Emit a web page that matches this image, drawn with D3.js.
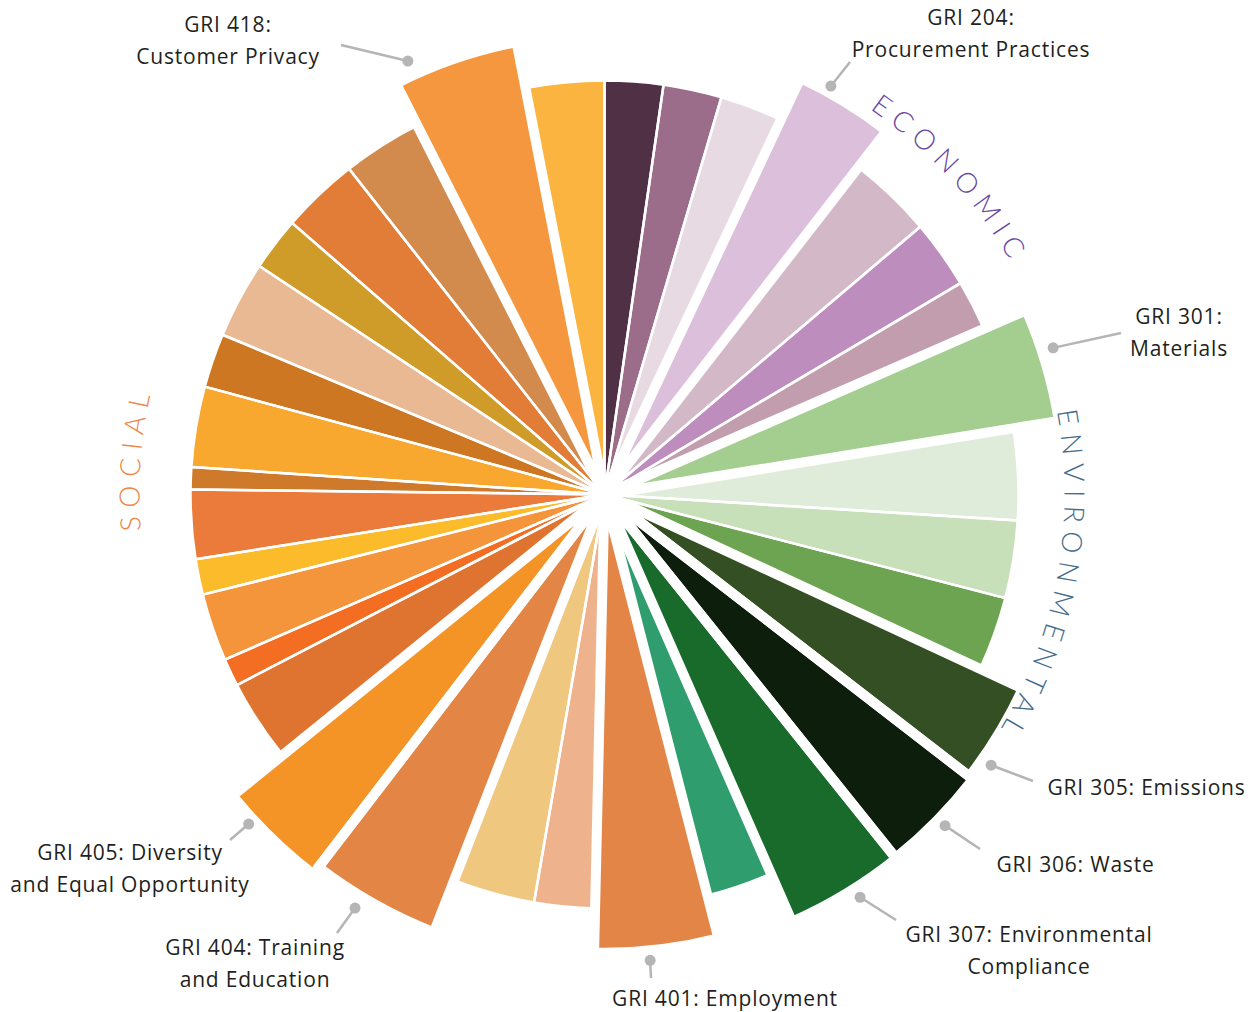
<!DOCTYPE html>
<html>
<head>
<meta charset="utf-8">
<script src="https://cdn.jsdelivr.net/npm/d3@7"></script>
<style>
  html, body { margin: 0; padding: 0; background: #fff; }
  svg { display: block; }
  .lbl { font-family: "Open Sans", sans-serif; font-size: 21px; letter-spacing: 0.8px; fill: #231f20; }
  .cat { font-family: "Lato", sans-serif; font-weight: 300; font-size: 28px; letter-spacing: 8px; }
</style>
</head>
<body>
<svg></svg>
<script>
// GRI topics, clockwise from 12 o'clock
let topics = ['GRI 201', 'GRI 202', 'GRI 203', 'GRI 204', 'GRI 205', 'GRI 206', 'GRI 207',
  'GRI 301', 'GRI 302', 'GRI 303', 'GRI 304', 'GRI 305', 'GRI 306', 'GRI 307', 'GRI 308',
  'GRI 401', 'GRI 402', 'GRI 403', 'GRI 404', 'GRI 405', 'GRI 406', 'GRI 407', 'GRI 408',
  'GRI 409', 'GRI 410', 'GRI 411', 'GRI 412', 'GRI 413', 'GRI 414', 'GRI 415', 'GRI 416',
  'GRI 417', 'GRI 418', 'GRI 419'];
let groups = ['Economic', 'Economic', 'Economic', 'Economic', 'Economic', 'Economic', 'Economic',
  'Environmental', 'Environmental', 'Environmental', 'Environmental', 'Environmental', 'Environmental', 'Environmental', 'Environmental',
  'Social', 'Social', 'Social', 'Social', 'Social', 'Social', 'Social', 'Social', 'Social', 'Social',
  'Social', 'Social', 'Social', 'Social', 'Social', 'Social', 'Social', 'Social', 'Social'];
// angular share of each wedge (degrees of the circle)
let weights = [8.2, 8.2, 8.8, 12.6, 11.9, 9.6, 7.1,
  14.4, 12.8, 10.9, 10.4, 12.8, 13.6, 15.0, 9.3,
  15.7, 8.5, 11.5, 16.2, 13.5, 11.6, 3.9, 9.5, 5.0, 9.7, 3.1, 11.3, 7.6, 10.8, 7.5, 10.9, 11.2, 15.9, 11.0];
// radial length of each wedge
let scores = [100, 100, 100, 111.2, 100, 100, 100,
  111.2, 100, 100, 100, 111.4, 112.5, 112.7, 100,
  110.7, 100, 100, 113.5, 115.6, 100, 100, 100, 100, 100, 100, 100, 100, 100, 100, 100, 100, 111.3, 100];
let colours = ['#4f3044', '#9b6d8a', '#e8dae2', '#dbbfdb', '#d3b9c8', '#bd8dbd', '#c29dae',
  '#a3ce8f', '#e0ecda', '#c8e0b9', '#6da451', '#344f23', '#0e1e0c', '#196b2c', '#2f9d6d',
  '#e38546', '#eeb38d', '#f0c77f', '#e38545', '#f59426', '#de742f', '#f36e22', '#f5953b',
  '#fbbb2a', '#eb7b3b', '#cf7a2a', '#f8a82f', '#ce7722', '#e8b992', '#cf9c29', '#e27d37',
  '#d28b4d', '#f5973f', '#fbb43f'];
// topics that are called out
let highlighted = ['GRI 204', 'GRI 301', 'GRI 305', 'GRI 306', 'GRI 307', 'GRI 401', 'GRI 404', 'GRI 405', 'GRI 418'];

// call-out labels: dot angle / radius, leader end, text anchor
let notes = [
  { lines: ['GRI 418:', 'Customer Privacy'], angle: 335.6, r: 476, end: [341, 45], x: 228, y: 32 },
  { lines: ['GRI 204:', 'Procurement Practices'], angle: 29, r: 467, end: [850, 62], x: 971, y: 25 },
  { lines: ['GRI 301:', 'Materials'], angle: 71.9, r: 472, end: [1121, 333], x: 1179, y: 323.5 },
  { lines: ['GRI 305: Emissions'], angle: 125, r: 472, end: [1033, 781], x: 1146.5, y: 795 },
  { lines: ['GRI 306: Waste'], angle: 134.2, r: 475, end: [980, 849], x: 1075.5, y: 872 },
  { lines: ['GRI 307: Environmental', 'Compliance'], angle: 147.6, r: 477, end: [896, 920], x: 1029, y: 942 },
  { lines: ['GRI 401: Employment'], angle: 174.4, r: 468, end: [651, 978], x: 725, y: 1006 },
  { lines: ['GRI 404: Training', 'and Education'], angle: 211.1, r: 483, end: [337, 933], x: 255, y: 955 },
  { lines: ['GRI 405: Diversity', 'and Equal Opportunity'], angle: 227.2, r: 485, end: [230, 840], x: 130, y: 860 }
];

// group titles curved round the rim
let categories = [
  { name: 'ECONOMIC', mid: 47.7, r: 468, colour: '#6a48a6' },
  { name: 'ENVIRONMENTAL', mid: 100.5, r: 460, colour: '#456c8a' },
  { name: 'SOCIAL', mid: 274.4, r: 465, colour: '#ef8547' }
];

let canvasWidth = 1257;
let canvasHeight = 1012;
let cx = 604.5, cy = 494.5;

let svg = d3.select('svg').attr('width', canvasWidth).attr('height', canvasHeight);
let g = svg.append('g').attr('transform', 'translate(' + cx + ',' + cy + ')');

let rScale = d3.scaleLinear().domain([0, 100]).range([0, 414]);

let rows = topics.map(function (t, i) {
  return { topic: t, group: groups[i], weight: weights[i], score: scores[i], colour: colours[i], hi: highlighted.includes(t) };
});

let pie = d3.pie().value(function (d) { return d.weight; }).sort(null);
let slices = pie(rows);
let arc = d3.arc().innerRadius(0).outerRadius(function (d) { return rScale(d.data.score); });

// wedge fills
g.selectAll('path.wedge').data(slices).join('path')
  .attr('class', 'wedge')
  .attr('d', arc)
  .attr('fill', function (d) { return d.data.colour; });

// thin white separators
g.selectAll('path.sep').data(slices).join('path')
  .attr('class', 'sep')
  .attr('d', arc)
  .attr('fill', 'none')
  .attr('stroke', '#fff')
  .attr('stroke-width', 2.5)
  .attr('stroke-linejoin', 'round');

// wide gaps round the called-out wedges
g.selectAll('path.gap').data(slices.filter(function (d) { return d.data.hi; })).join('path')
  .attr('class', 'gap')
  .attr('d', arc)
  .attr('fill', 'none')
  .attr('stroke', '#fff')
  .attr('stroke-width', 10)
  .attr('stroke-linejoin', 'round');

function polar(r, deg) {
  let a = deg * Math.PI / 180;
  return [r * Math.sin(a), -r * Math.cos(a)];
}

// curved category titles
let defs = svg.append('defs');
categories.forEach(function (c, i) {
  let s = polar(c.r, c.mid - 60), e = polar(c.r, c.mid + 60);
  defs.append('path')
    .attr('id', 'catpath' + i)
    .attr('d', 'M' + (s[0] + cx) + ',' + (s[1] + cy) + 'A' + c.r + ',' + c.r + ' 0 0 1 ' + (e[0] + cx) + ',' + (e[1] + cy));
  svg.append('text')
    .attr('class', 'cat')
    .attr('fill', c.colour)
    .append('textPath')
    .attr('href', '#catpath' + i)
    .attr('startOffset', '50%')
    .attr('text-anchor', 'middle')
    .text(c.name);
});

// leader lines, dots and labels
let notesG = svg.append('g');
notes.forEach(function (n) {
  let p = polar(n.r, n.angle);
  let dot = [p[0] + cx, p[1] + cy];
  notesG.append('line')
    .attr('x1', dot[0]).attr('y1', dot[1])
    .attr('x2', n.end[0]).attr('y2', n.end[1])
    .attr('stroke', '#b5b5b5').attr('stroke-width', 2.5);
  notesG.append('circle')
    .attr('cx', dot[0]).attr('cy', dot[1]).attr('r', 5.5)
    .attr('fill', '#b5b5b5');
  let t = notesG.append('text').attr('class', 'lbl').attr('text-anchor', 'middle');
  n.lines.forEach(function (line, k) {
    t.append('tspan').attr('x', n.x).attr('y', n.y + k * 32).text(line);
  });
});
</script>
</body>
</html>
